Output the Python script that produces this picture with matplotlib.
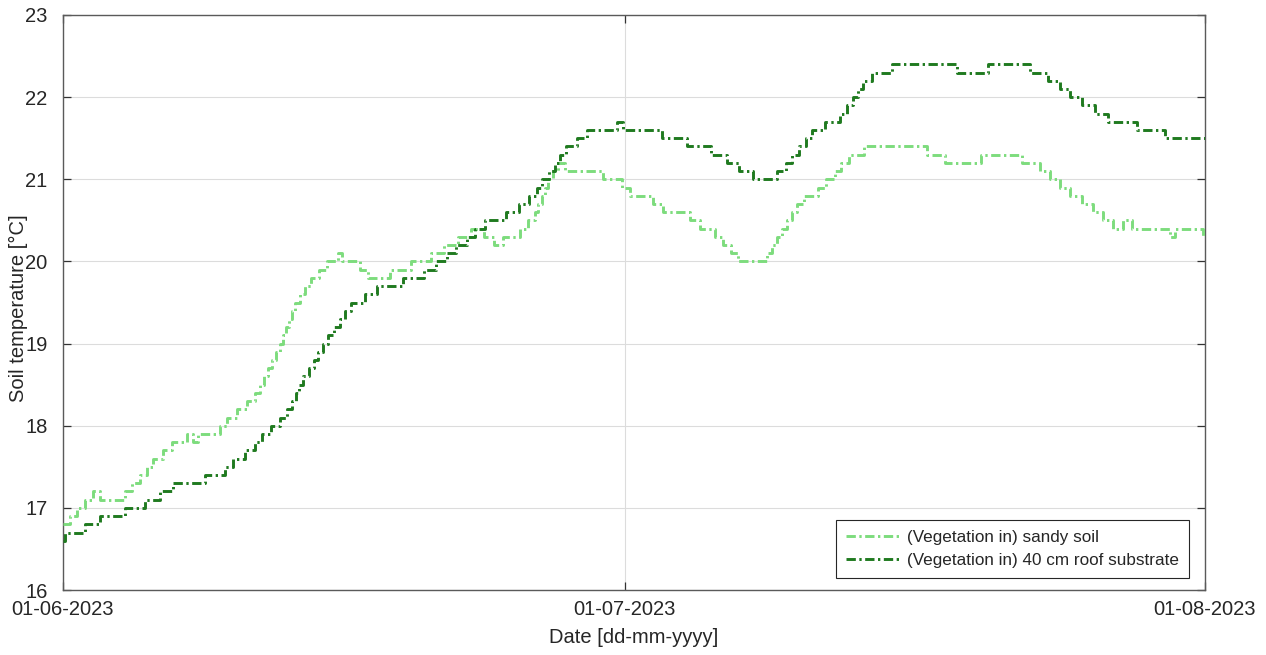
import datetime as dt
import numpy as np
import matplotlib
matplotlib.use("Agg")
import matplotlib.pyplot as plt
import matplotlib.dates as mdates

# Step change points: days since 01-06-2023 and the temperature from that time on
sandy_days = [0.00, 0.37, 0.75, 1.18, 1.60, 1.98, 3.31, 3.69, 4.11, 4.49, 4.81, 5.34,
              5.82, 6.62, 6.94, 7.21, 8.39, 8.76, 9.29, 9.83, 10.26, 10.52, 10.74,
              10.95, 11.16, 11.38, 11.59, 11.75, 11.91, 12.07, 12.23, 12.39, 12.66,
              12.93, 13.25, 13.68, 14.10, 14.69, 14.90, 15.87, 16.29, 17.47, 18.59,
              19.66, 20.35, 21.10, 21.79, 22.49, 23.02, 23.50, 24.41, 24.84, 25.21,
              25.37, 25.59, 25.75, 25.91, 26.18, 26.44, 26.82, 28.85, 29.86, 30.29,
              31.52, 32.05, 33.49, 34.03, 34.83, 35.26, 35.68, 36.06, 37.61, 37.87,
              38.14, 38.41, 38.68, 38.94, 39.21, 39.58, 40.33, 40.76, 41.24, 41.56,
              41.99, 42.79, 46.15, 47.12, 49.04, 51.23, 52.19, 52.72, 53.26, 53.79,
              54.43, 55.02, 55.56, 56.09, 56.62, 57.11, 59.14, 59.40, 60.90, 61.00]
sandy_temp = [16.8, 16.9, 17.0, 17.1, 17.2, 17.1, 17.2, 17.3, 17.4, 17.5, 17.6, 17.7,
              17.8, 17.9, 17.8, 17.9, 18.0, 18.1, 18.2, 18.3, 18.4, 18.5, 18.6,
              18.7, 18.8, 18.9, 19.0, 19.1, 19.2, 19.3, 19.4, 19.5, 19.6,
              19.7, 19.8, 19.9, 20.0, 20.1, 20.0, 19.9, 19.8, 19.9, 20.0,
              20.1, 20.2, 20.3, 20.4, 20.3, 20.2, 20.3, 20.4, 20.5, 20.6,
              20.7, 20.8, 20.9, 21.0, 21.1, 21.2, 21.1, 21.0, 20.9, 20.8,
              20.7, 20.6, 20.5, 20.4, 20.3, 20.2, 20.1, 20.0, 20.1, 20.2,
              20.3, 20.4, 20.5, 20.6, 20.7, 20.8, 20.9, 21.0, 21.1, 21.2,
              21.3, 21.4, 21.3, 21.2, 21.3, 21.2, 21.1, 21.0, 20.9, 20.8,
              20.7, 20.6, 20.5, 20.4, 20.5, 20.4, 20.3, 20.4, 20.3, 20.3]

roof_days = [0.00, 0.11, 1.18, 1.98, 3.31, 4.38, 5.18, 5.88, 7.59, 8.65, 9.08, 9.72,
             10.26, 10.63, 11.11, 11.59, 11.97, 12.23, 12.45, 12.61, 12.82, 13.14,
             13.41, 13.62, 13.89, 14.16, 14.48, 14.80, 15.06, 15.38, 16.13, 16.77,
             18.16, 19.28, 19.93, 20.51, 20.99, 21.58, 22.01, 22.54, 23.66, 24.36,
             24.89, 25.32, 25.59, 25.96, 26.28, 26.55, 26.87, 27.46, 27.99, 29.59,
             29.91, 31.99, 33.33, 34.62, 35.47, 36.11, 36.86, 38.14, 38.62, 38.94,
             39.32, 39.69, 40.01, 40.71, 41.51, 41.88, 42.20, 42.47, 42.74, 43.22,
             44.28, 47.76, 49.41, 51.66, 52.62, 53.26, 53.79, 54.43, 55.13, 55.82,
             57.37, 58.87, 61.00]
roof_temp = [16.6, 16.7, 16.8, 16.9, 17.0, 17.1, 17.2, 17.3, 17.4, 17.5, 17.6, 17.7,
             17.8, 17.9, 18.0, 18.1, 18.2, 18.3, 18.4, 18.5, 18.6, 18.7,
             18.8, 18.9, 19.0, 19.1, 19.2, 19.3, 19.4, 19.5, 19.6, 19.7,
             19.8, 19.9, 20.0, 20.1, 20.2, 20.3, 20.4, 20.5, 20.6, 20.7,
             20.8, 20.9, 21.0, 21.1, 21.2, 21.3, 21.4, 21.5, 21.6, 21.7,
             21.6, 21.5, 21.4, 21.3, 21.2, 21.1, 21.0, 21.1, 21.2, 21.3,
             21.4, 21.5, 21.6, 21.7, 21.8, 21.9, 22.0, 22.1, 22.2, 22.3,
             22.4, 22.3, 22.4, 22.3, 22.2, 22.1, 22.0, 21.9, 21.8, 21.7,
             21.6, 21.5, 21.5]

series_labels = ["(Vegetation in) sandy soil", "(Vegetation in) 40 cm roof substrate"]
series_colors = ["#7ddc7d", "#1f7a1f"]
x_ticks = ["2023-06-01", "2023-07-01", "2023-08-01"]
y_ticks = [16, 17, 18, 19, 20, 21, 22, 23]

plt.rcParams["font.family"] = ["Liberation Sans", "DejaVu Sans"]

start = dt.datetime(2023, 6, 1)


def to_dates(days):
    return [start + dt.timedelta(days=d) for d in days]


fig = plt.figure(figsize=(12.66, 6.55), dpi=100)
ax = fig.add_axes([63 / 1266, 1 - 590 / 655, (1205 - 63) / 1266, (590 - 15) / 655])

dash = (3.2, 1.2, 0.8, 1.2)
for days, temps, lab, col in zip([sandy_days, roof_days], [sandy_temp, roof_temp],
                                 series_labels, series_colors):
    ax.plot(to_dates(days), temps, drawstyle="steps-post", color=col, lw=2.1,
            dashes=dash, label=lab, zorder=3)

xt = [dt.datetime.strptime(s, "%Y-%m-%d") for s in x_ticks]
ax.set_xlim(xt[0], xt[-1])
ax.set_ylim(y_ticks[0], y_ticks[-1])
ax.set_xticks(xt)
ax.xaxis.set_major_formatter(mdates.DateFormatter("%d-%m-%Y"))
ax.set_yticks(y_ticks)

ax.grid(True, color="#dcdcdc", lw=0.8, zorder=0)
ax.set_axisbelow(True)
for s in ax.spines.values():
    s.set_color("#5a5a5a")
    s.set_linewidth(1.0)
ax.tick_params(direction="in", length=6, width=0.9, color="#333333",
               labelsize=14.5, labelcolor="#262626", top=True, right=True)
ax.tick_params(axis="y", pad=11)
ax.tick_params(axis="x", pad=7)

ax.set_xlabel("Date [dd-mm-yyyy]", fontsize=14.5, color="#262626", labelpad=7)
ax.set_ylabel("Soil temperature [°C]", fontsize=14.5, color="#262626", va="center")
ax.yaxis.set_label_coords((18 - 63) / 1142, 0.49)

leg = ax.legend(loc="lower right", bbox_to_anchor=(1189 / 1266, 1 - 578 / 655),
                bbox_transform=fig.transFigure, fontsize=12.3, frameon=True,
                fancybox=False, edgecolor="#262626", framealpha=1,
                handlelength=3.3, handletextpad=0.25, borderpad=0.6,
                labelspacing=0.45, borderaxespad=0)
leg.get_frame().set_linewidth(0.8)
for t in leg.get_texts():
    t.set_color("#262626")

fig.savefig("out.png", dpi=100)
